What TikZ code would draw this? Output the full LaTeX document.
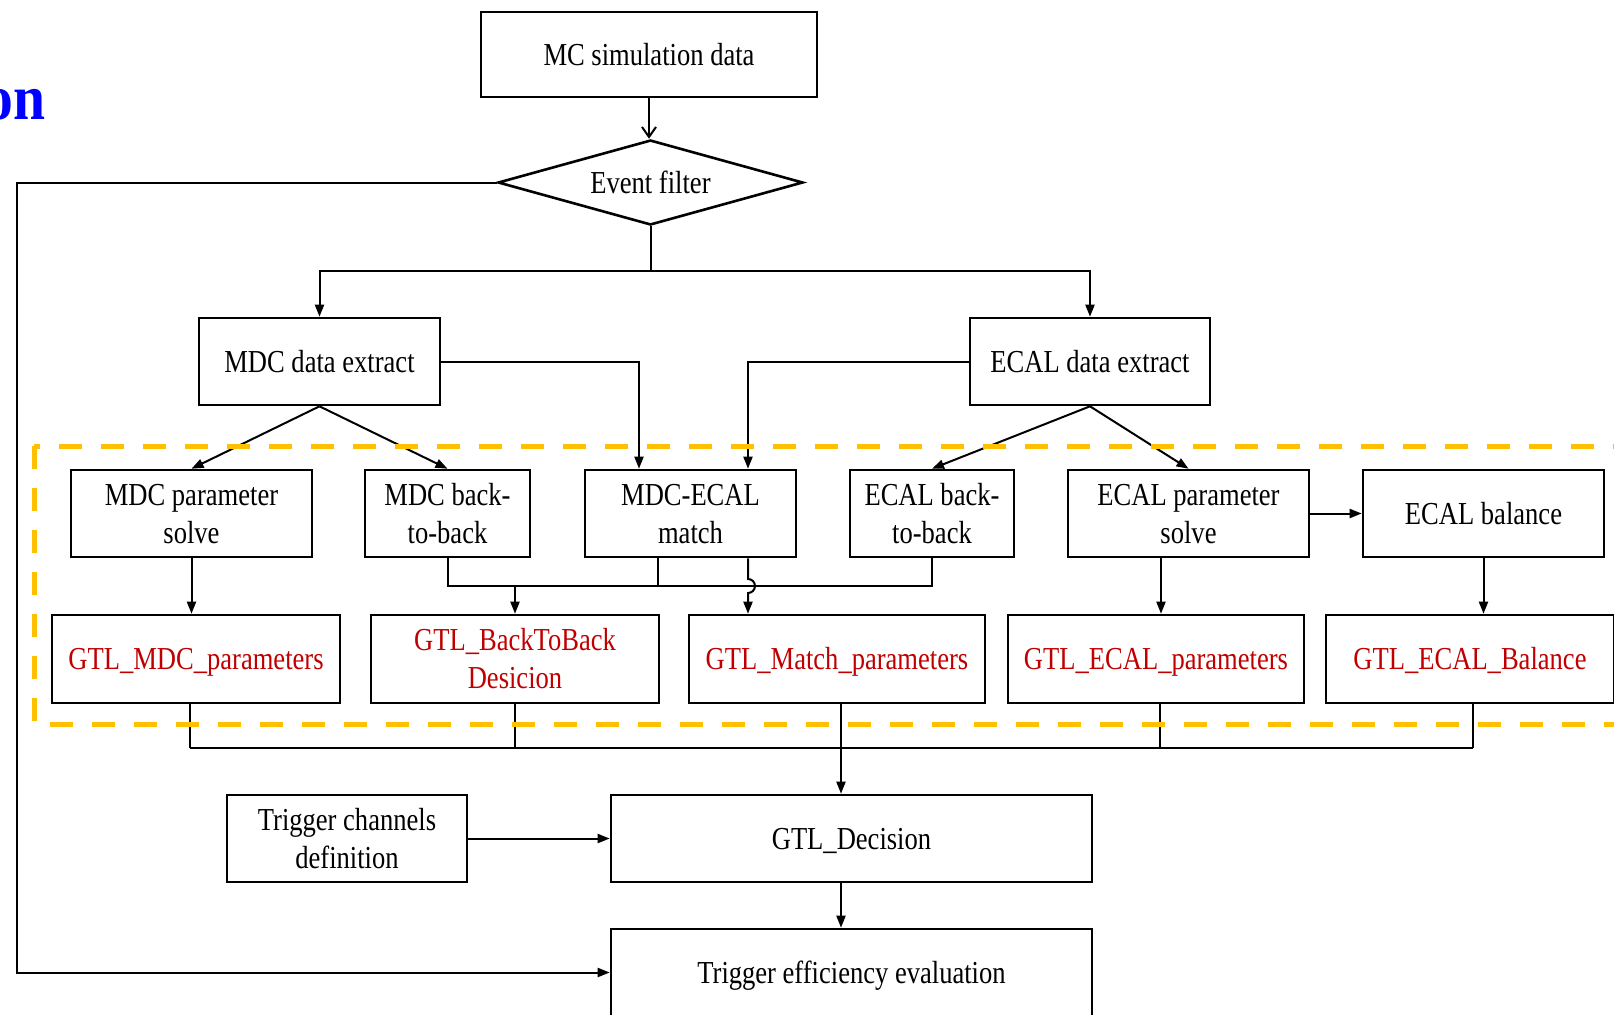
\documentclass[tikz,border=0pt]{standalone}
\usepackage{fontspec}
\setmainfont{Liberation Serif}[FakeStretch=0.83]
\newfontfamily\titlefont{Liberation Serif}[FakeStretch=0.9]
\usetikzlibrary{arrows.meta,calc,shapes.geometric}
\definecolor{gtlred}{HTML}{C00000}
\definecolor{dashorange}{HTML}{FFC000}
\definecolor{titleblue}{HTML}{0000FF}
\newcommand\mytxt[1]{\raisebox{0pt}[0.68em][0.02em]{#1}}
\begin{document}
\begin{tikzpicture}[x=0.5pt,y=-0.5pt,
  box/.style={draw,line width=1.3pt,fill=white,minimum height=43.5pt,inner sep=0pt,align=center,font=\fontsize{16pt}{19pt}\selectfont},
  gtl/.style={box,text=gtlred,minimum height=44pt},
  conn/.style={line width=1pt},
  arr/.style={conn,-{Triangle[length=6pt,width=4.5pt]}},
  openarr/.style={conn,-{Straight Barb[length=5pt,width=7pt]}},
  groupbox/.style={draw=dashorange,line width=2.5pt,dash pattern=on 11.5pt off 9.5pt},
]
\useasboundingbox (0,0) rectangle (1614,1014);

% title fragment
\node[anchor=base east,text=titleblue,inner sep=0pt,font=\titlefont\bfseries\fontsize{32pt}{32pt}\selectfont] (title) at (46,119) {on};

% top
\node[box,minimum width=168pt,minimum height=42.5pt] (mc) at (649,54.5) {\mytxt{MC simulation data}};
\node[diamond,draw,line width=1.3pt,fill=white,aspect=3.59,inner sep=0pt,minimum width=152.5pt,minimum height=42.5pt,font=\fontsize{16pt}{19pt}\selectfont] (ef) at (650.5,182.5) {\mytxt{Event filter}};

% extract row
\node[box,minimum width=120.5pt] (mdcx) at (319.5,361.5) {\mytxt{MDC data extract}};
\node[box,minimum width=120pt] (ecalx) at (1090,361.5) {\mytxt{ECAL data extract}};

% row 1
\node[box,minimum width=120.5pt] (mps) at (191.5,513.5) {\mytxt{MDC parameter}\\\mytxt{solve}};
\node[box,minimum width=82.5pt] (mbb) at (447.5,513.5) {\mytxt{MDC back-}\\\mytxt{to-back}};
\node[box,minimum width=105.5pt] (match) at (690.5,513.5) {\mytxt{MDC-ECAL}\\\mytxt{match}};
\node[box,minimum width=82pt] (ebb) at (932,513.5) {\mytxt{ECAL back-}\\\mytxt{to-back}};
\node[box,minimum width=120.5pt] (eps) at (1188.5,513.5) {\mytxt{ECAL parameter}\\\mytxt{solve}};
\node[box,minimum width=120.5pt] (ebal) at (1483.5,513.5) {\mytxt{ECAL balance}};

% row 2
\node[gtl,minimum width=144pt] (gmdc) at (196,659) {\mytxt{GTL\_MDC\_parameters}};
\node[gtl,minimum width=144pt] (gbb) at (515,659) {\mytxt{GTL\_BackToBack}\\\mytxt{Desicion}};
\node[gtl,minimum width=148pt] (gmatch) at (837,659) {\mytxt{GTL\_Match\_parameters}};
\node[gtl,minimum width=148pt] (gecal) at (1156,659) {\mytxt{GTL\_ECAL\_parameters}};
\node[gtl,minimum width=144pt] (gbal) at (1470,659) {\mytxt{GTL\_ECAL\_Balance}};

% bottom
\node[box,minimum width=120pt] (tcd) at (347,838.5) {\mytxt{Trigger channels}\\\mytxt{definition}};
\node[box,minimum width=240.5pt] (gdec) at (851.5,838.5) {\mytxt{GTL\_Decision}};
\node[box,minimum width=240.5pt] (tee) at (851.5,972.5) {\mytxt{Trigger efficiency evaluation}};

% connectors top
\draw[openarr] (mc.south) -- (mc.south |- ef.north);
\coordinate (sp) at ($(ef.south)+(0,45)$);
\draw[conn] (ef.south) -- (sp);
\draw[arr] (sp) -| (mdcx.north);
\draw[arr] (sp) -| (ecalx.north);
\coordinate (fb) at (16.5,972.5);
\draw[arr] (ef.west) -| (fb) -- (tee.west);

% extract to row 1
\draw[arr] (mdcx.east) -| ($(match.north)+(-51.5,0)$);
\draw[arr] (ecalx.west) -| ($(match.north)+(57.5,0)$);
\draw[arr] (mdcx.south) -- (mps.north);
\draw[arr] (mdcx.south) -- (mbb.north);
\draw[arr] (ecalx.south) -- (ebb.north);
\draw[arr] (ecalx.south) -- (eps.north);

% row 1 to row 2
\draw[arr] (mps.south) -- (mps.south |- gmdc.north);
\coordinate (e1) at ($(eps.south)+(-27.5,0)$);
\draw[arr] (e1) -- (e1 |- gecal.north);
\draw[arr] (eps.east) -- (ebal.west);
\draw[arr] (ebal.south) -- (ebal.south |- gbal.north);

\coordinate (bus) at (0,586);
\draw[conn] (mbb.south) |- (bus -| ebb.south) -- (ebb.south);
\coordinate (m1) at ($(match.south)+(-32.5,0)$);
\draw[conn] (m1) -- (m1 |- bus);
\draw[arr] (gbb.north |- bus) -- (gbb.north);
\coordinate (m2) at ($(match.south)+(57.5,0)$);
\draw[arr] (m2) -- ($(m2 |- bus)+(0,-7)$) arc[start angle=90,end angle=-90,radius=3.5pt] -- (m2 |- gmatch.north);

% bottom bus
\coordinate (bb) at (0,748);
\coordinate (g1) at ($(gmdc.south)+(-6,0)$);
\coordinate (g3) at ($(gmatch.south)+(4,0)$);
\coordinate (g4) at ($(gecal.south)+(4,0)$);
\coordinate (g5) at ($(gbal.south)+(3,0)$);
\draw[conn] (g1) -- (g1 |- bb);
\draw[conn] (gbb.south) -- (gbb.south |- bb);
\draw[conn] (g4) -- (g4 |- bb);
\draw[conn] (g5) -- (g5 |- bb);
\draw[conn] (g1 |- bb) -- (g5 |- bb);
\draw[arr] (g3) -- (g3 |- gdec.north);
\draw[arr] (tcd.east) -- (tcd.east -| gdec.west);
\draw[arr] (g3 |- gdec.south) -- (g3 |- tee.north);

% dashed group
\draw[groupbox] (34,446) rectangle (1670,724);
\end{tikzpicture}
\end{document}
